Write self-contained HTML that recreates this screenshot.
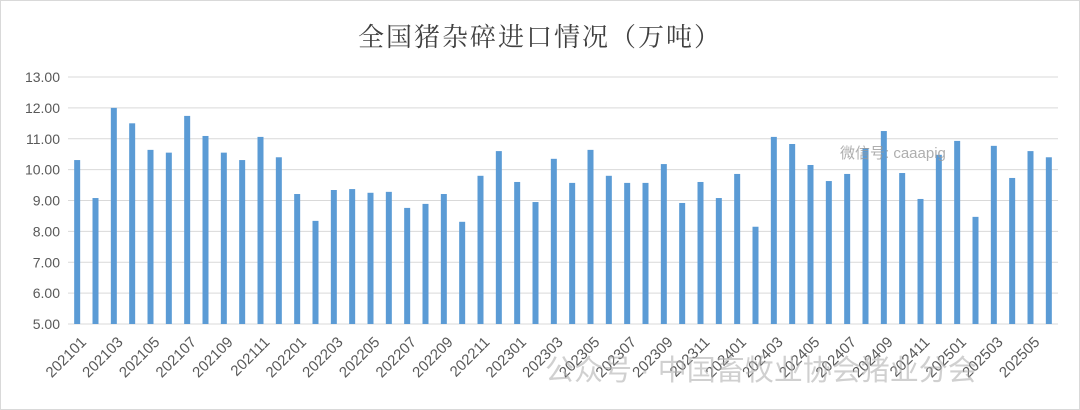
<!DOCTYPE html>
<html><head><meta charset="utf-8"><style>
html,body{margin:0;padding:0;background:#fff;}
svg{display:block;}
</style></head><body>
<svg id="chart" width="1080" height="410" xmlns="http://www.w3.org/2000/svg">
<rect x="0.5" y="0.5" width="1079" height="409" fill="#fff" stroke="#d9d9d9"/>
<text x="540" y="46" text-anchor="middle" font-family="'Liberation Serif','Noto Serif CJK SC',serif" font-size="26" fill="#404040" letter-spacing="2">全国猪杂碎进口情况（万吨）</text>
<g id="grid"></g><g id="bars"></g><g id="ylabels"></g><g id="xlabels"></g>
<text x="840" y="158" font-family="'Liberation Sans','Noto Sans CJK SC',sans-serif" font-size="15" fill="#9a9a9a" opacity="0.8">微信号: caaapig</text>
<text x="545" y="380" font-family="'Liberation Sans','Noto Sans CJK SC',sans-serif" font-size="29" fill="#aaaaaa" opacity="0.55">公众号 · 中国畜牧业协会猪业分会</text>
</svg>
<script>
const categories=[];
for(let y=2021;y<=2025;y++){for(let m=1;m<=12;m++){if(y===2025&&m>6)break;categories.push(y+String(m).padStart(2,'0'));}}
const values=[10.31,9.08,12.0,11.5,10.64,10.55,11.74,11.09,10.55,10.31,11.06,10.4,
9.21,8.34,9.34,9.37,9.25,9.28,8.76,8.89,9.21,8.31,9.8,10.6,
9.6,8.95,10.35,9.57,10.64,9.8,9.57,9.57,10.18,8.92,9.6,9.08,
9.86,8.15,11.06,10.83,10.15,9.63,9.86,10.7,11.25,9.89,9.05,10.48,
10.93,8.47,10.77,9.73,10.6,10.4];
const yTicks=[5,6,7,8,9,10,11,12,13];
const NS='http://www.w3.org/2000/svg';
const x0=68,x1=1058,yTop=77,yBot=324,yMin=5,yMax=13;
const yS=v=>yBot-(v-yMin)/(yMax-yMin)*(yBot-yTop);
const step=(x1-x0)/categories.length;
const xS=i=>x0+step*(i+0.5);
function mk(t,a){const e=document.createElementNS(NS,t);for(const k in a)e.setAttribute(k,a[k]);return e;}
const grid=document.getElementById('grid'),yl=document.getElementById('ylabels'),bars=document.getElementById('bars'),xl=document.getElementById('xlabels');
yTicks.forEach(v=>{
 const l=mk('line',{x1:x0,x2:x1,y1:yS(v),y2:yS(v),stroke:'#d9d9d9','stroke-width':1});
 
 
 grid.appendChild(l);
 const t=mk('text',{x:60,y:yS(v)+5,'text-anchor':'end','font-family':'Liberation Sans, sans-serif','font-size':14,fill:'#595959'});
 t.textContent=v.toFixed(2);
 
 
 yl.appendChild(t);
});
values.forEach((v,i)=>{
 const w=6;
 const r=mk('rect',{x:xS(i)-w/2,y:yS(v),width:w,height:yBot-yS(v),fill:'#5b9bd5'});
 
 
 bars.appendChild(r);
});
categories.forEach((c,i)=>{
 if(i%2)return;
 const x=xS(i)+10,y=343;
 const t=mk('text',{x:x,y:y,'text-anchor':'end','font-family':'Liberation Sans, sans-serif','font-size':15,fill:'#595959',transform:`rotate(-45 ${x} ${y})`});
 t.textContent=c;
 
 
 xl.appendChild(t);
});
</script>
</body></html>
